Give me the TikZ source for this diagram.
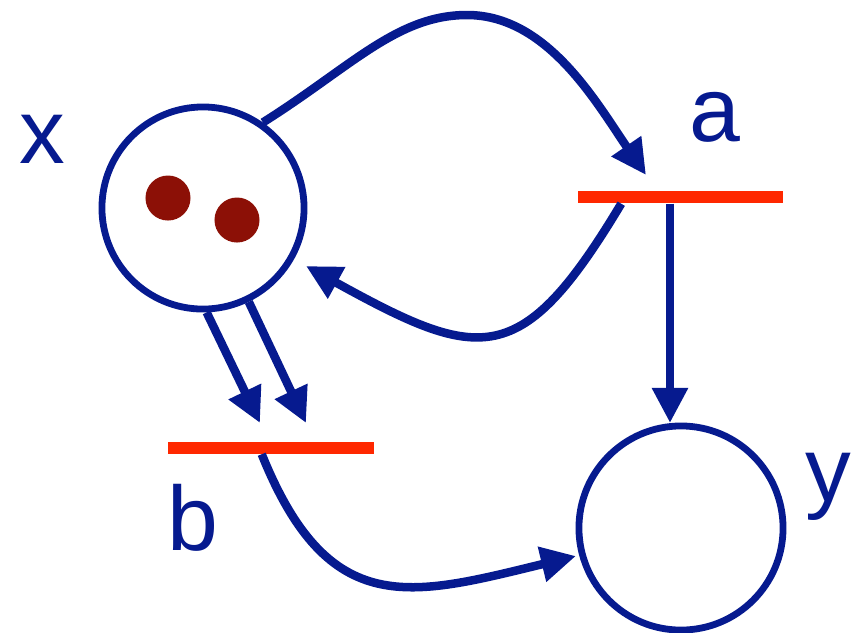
\documentclass[tikz,border=0pt]{standalone}
\usepackage{fontspec}
\setmainfont{Liberation Sans}
\usetikzlibrary{arrows.meta,calc}
\definecolor{pnblue}{RGB}{6,26,143}
\definecolor{pnred}{RGB}{255,40,0}
\definecolor{tokred}{RGB}{140,16,6}
\begin{document}
\begin{tikzpicture}[x=0.01cm,y=-0.01cm,
 place/.style={circle,draw=pnblue,line width=0.068cm,inner sep=0pt,minimum size=2.02cm},
 trans/.style={rectangle,fill=pnred,inner sep=0pt,minimum width=2.05cm,minimum height=0.12cm},
 token/.style={circle,fill=tokred,inner sep=0pt,minimum size=0.45cm},
 lbl/.style={text=pnblue,font=\fontsize{26}{30}\selectfont,inner sep=0pt,anchor=base},
 arc/.style={draw=pnblue,line width=0.085cm,-{Triangle[length=0.35cm,width=0.34cm]}}]
\useasboundingbox (0,0) rectangle (854,632);
\node[place] (px) at (203,208) {};
\node[place,minimum size=2.04cm] (py) at (681,528) {};
\node[token] (t1) at (168,198) {};
\node[token] (t2) at (237,220) {};
\node[trans] (ta) at (680.5,197) {};
\node[trans] (tb) at (271,447.5) {};
\node[lbl] (lx) at (42,163) {x};
\node[lbl] (la) at (715,141) {a};
\node[lbl] (lb) at (193,550) {b};
\node[lbl] (ly) at (828,501) {y};
\coordinate (xa) at (646,175);
\coordinate (ax) at (306,266);
\coordinate (ay) at (670,423);
\coordinate (b1) at (260,423);
\coordinate (b2) at (306,423);
\coordinate (by) at (576,556);
\draw[arc] (px.55) .. controls (351,67) and (397,15) .. (467,15) .. controls (547,15) and (596,102) .. (xa);
\draw[arc] ($(ta.south west)+(44,0)$) .. controls (521,371) and (480,362) .. (ax);
\draw[arc] (ay |- ta.south) -- (ay);
\draw[arc] (px.-88) -- (b1);
\draw[arc] (px.-64) -- (b2);
\draw[arc] ($(tb.south west)+(94,0)$) .. controls (329,621) and (411,596) .. (by);
\end{tikzpicture}
\end{document}
